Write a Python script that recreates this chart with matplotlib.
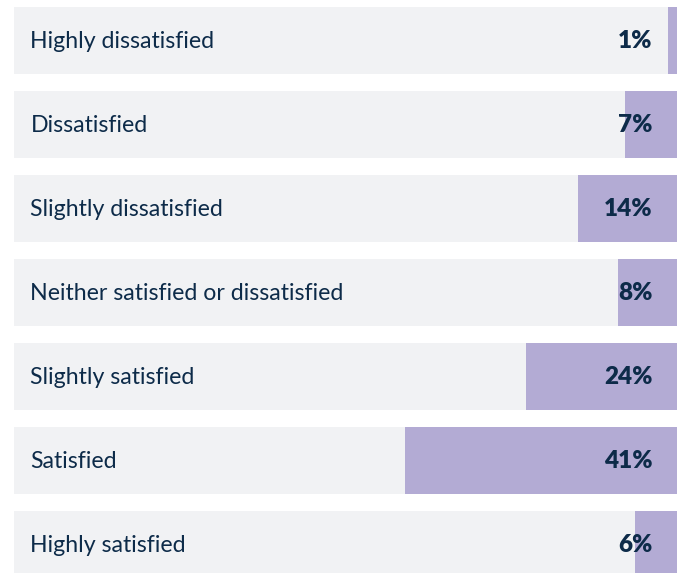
import matplotlib
matplotlib.use("Agg")
import matplotlib.pyplot as plt

# Satisfaction survey: share of respondents per answer
categories = [
    "Highly dissatisfied",
    "Dissatisfied",
    "Slightly dissatisfied",
    "Neither satisfied or dissatisfied",
    "Slightly satisfied",
    "Satisfied",
    "Highly satisfied",
]
# bar lengths as drawn
shares = [1.4, 7.8, 14.9, 8.9, 22.8, 41.0, 6.3]
# printed labels
value_labels = ["1%", "7%", "14%", "8%", "24%", "41%", "6%"]

W, H = 678, 573
fig = plt.figure(figsize=(W / 100, H / 100), dpi=100)
ax = fig.add_axes([14 / W, 0, 663 / W, 1])

pitch = 84
first_center = 40.5
bar_h = 67 / pitch

rows = list(range(len(categories)))
gray = "#f1f2f4"
purple = "#b3abd4"
navy = "#0d2b49"

ax.barh(rows, [100] * len(rows), height=bar_h, color=gray, linewidth=0)
ax.barh(rows, shares, left=[100 - s for s in shares], height=bar_h,
        color=purple, linewidth=0)

for i, (cat, lab) in enumerate(zip(categories, value_labels)):
    ax.annotate(cat, (0, i), xytext=(11.8, -1), textcoords="offset points",
                ha="left", va="center", fontsize=16.7, color=navy,
                family="Lato")
    ax.annotate(lab, (100, i), xytext=(-17.5, -0.5), textcoords="offset points",
                ha="right", va="center", fontsize=17.5, color=navy,
                family="Lato", fontweight="heavy")

ax.set_xlim(0, 100)
ax.set_ylim((H - first_center) / pitch, -first_center / pitch)
ax.axis("off")

fig.savefig("out.png", dpi=100)
